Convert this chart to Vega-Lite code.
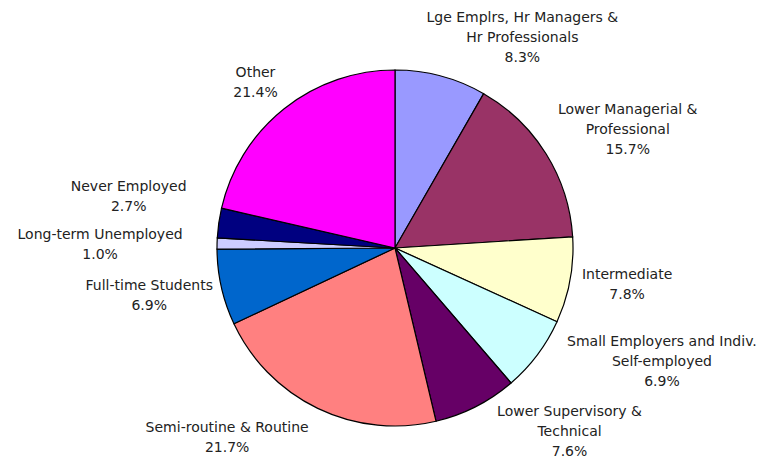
{
  "$schema": "https://vega.github.io/schema/vega-lite/v6.json",
  "width": 724,
  "height": 422,
  "padding": {"left": 33, "top": 37, "right": 0, "bottom": 0},
  "autosize": {"type": "none"},
  "background": "white",
  "config": {"view": {"stroke": null}, "text": {"font": "DejaVu Sans", "fontSize": 14, "fill": "#222222", "lineHeight": 20, "align": "center", "baseline": "middle"}},
  "data": {"values": [
    {"rank": 1, "name": "Lge Emplrs, Hr Managers & Hr Professionals", "value": 8.3, "label": ["Lge Emplrs, Hr Managers &", "Hr Professionals", "8.3%"]},
    {"rank": 2, "name": "Lower Managerial & Professional", "value": 15.7, "label": ["Lower Managerial &", "Professional", "15.7%"]},
    {"rank": 3, "name": "Intermediate", "value": 7.8, "label": ["Intermediate", "7.8%"]},
    {"rank": 4, "name": "Small Employers and Indiv. Self-employed", "value": 6.9, "label": ["Small Employers and Indiv.", "Self-employed", "6.9%"]},
    {"rank": 5, "name": "Lower Supervisory & Technical", "value": 7.6, "label": ["Lower Supervisory &", "Technical", "7.6%"]},
    {"rank": 6, "name": "Semi-routine & Routine", "value": 21.7, "label": ["Semi-routine & Routine", "21.7%"]},
    {"rank": 7, "name": "Full-time Students", "value": 6.9, "label": ["Full-time Students", "6.9%"]},
    {"rank": 8, "name": "Long-term Unemployed", "value": 1.0, "label": ["Long-term Unemployed", "1.0%"]},
    {"rank": 9, "name": "Never Employed", "value": 2.7, "label": ["Never Employed", "2.7%"]},
    {"rank": 10, "name": "Other", "value": 21.4, "label": ["Other", "21.4%"]}
  ]},
  "encoding": {
    "theta": {"field": "value", "type": "quantitative", "stack": true},
    "order": {"field": "rank", "type": "quantitative", "sort": "ascending"}
  },
  "layer": [
    {
      "mark": {"type": "arc", "outerRadius": 178, "stroke": "black", "strokeWidth": 1.2},
      "encoding": {
        "color": {
          "field": "name", "type": "nominal", "legend": null,
          "scale": {
            "domain": ["Lge Emplrs, Hr Managers & Hr Professionals", "Lower Managerial & Professional", "Intermediate", "Small Employers and Indiv. Self-employed", "Lower Supervisory & Technical", "Semi-routine & Routine", "Full-time Students", "Long-term Unemployed", "Never Employed", "Other"],
            "range": ["#9999FF", "#993366", "#FFFFCC", "#CCFFFF", "#660066", "#FF8080", "#0066CC", "#CCCCFF", "#000080", "#FF00FF"]
          }
        }
      }
    },
    {"mark": {"type": "text", "radius": 238, "dx": 66},
     "encoding": {"text": {"condition": {"test": "datum.rank === 1", "field": "label"}, "value": ""}}},
    {"mark": {"type": "text", "radius": 274, "dy": 7},
     "encoding": {"text": {"condition": {"test": "datum.rank === 2", "field": "label"}, "value": ""}}},
    {"mark": {"type": "text", "radius": 236, "dy": -16},
     "encoding": {"text": {"condition": {"test": "datum.rank === 3", "field": "label"}, "value": ""}}},
    {"mark": {"type": "text", "radius": 270, "dx": 51, "dy": -68},
     "encoding": {"text": {"condition": {"test": "datum.rank === 4", "field": "label"}, "value": ""}}},
    {"mark": {"type": "text", "radius": 184, "dx": 91},
     "encoding": {"text": {"condition": {"test": "datum.rank === 5", "field": "label"}, "value": ""}}},
    {"mark": {"type": "text", "radius": 200, "dx": -81},
     "encoding": {"text": {"condition": {"test": "datum.rank === 6", "field": "label"}, "value": ""}}},
    {"mark": {"type": "text", "radius": 252, "dy": -18},
     "encoding": {"text": {"condition": {"test": "datum.rank === 7", "field": "label"}, "value": ""}}},
    {"mark": {"type": "text", "radius": 295, "dy": -6},
     "encoding": {"text": {"condition": {"test": "datum.rank === 8", "field": "label"}, "value": ""}}},
    {"mark": {"type": "text", "radius": 269, "dy": -23},
     "encoding": {"text": {"condition": {"test": "datum.rank === 9", "field": "label"}, "value": ""}}},
    {"mark": {"type": "text", "radius": 224},
     "encoding": {"text": {"condition": {"test": "datum.rank === 10", "field": "label"}, "value": ""}}}
  ]
}
